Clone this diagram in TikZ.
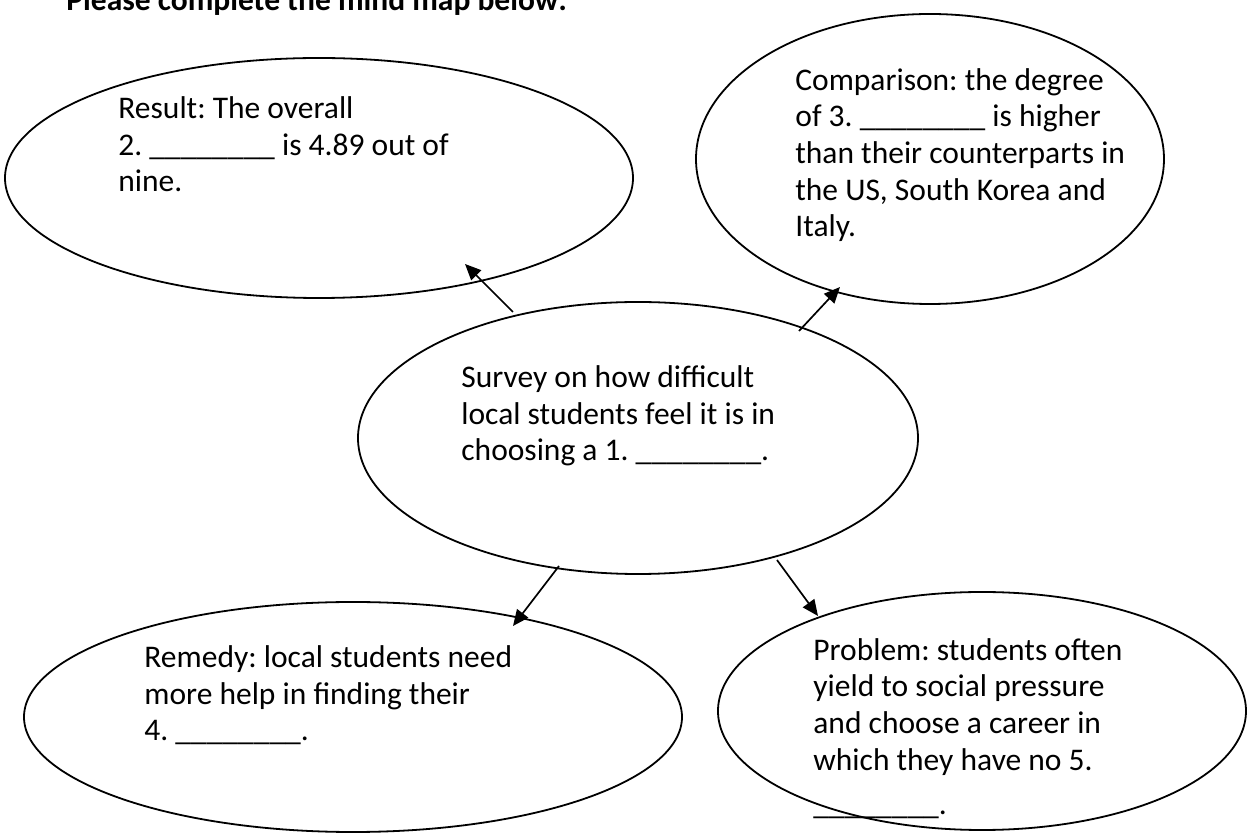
\documentclass[tikz,border=0pt]{standalone}
\usepackage{fontspec}
\setmainfont{Carlito}
\usetikzlibrary{shapes.geometric,arrows.meta}
\frenchspacing
\begin{document}
\begin{tikzpicture}[x=0.5pt,y=-0.5pt,
  bubble/.style={ellipse,draw,line width=0.9pt,inner sep=0pt,outer sep=0pt},
  txt/.style={anchor=base west,inner sep=0pt,align=left,font=\fontsize{15.75pt}{18.35pt}\selectfont},
  link/.style={line width=0.85pt,-{Triangle[length=8pt,width=7pt]}}]
\useasboundingbox (0,0) rectangle (1250,839);
\node[anchor=base west,inner sep=0pt,font=\fontsize{15.75pt}{18.35pt}\selectfont\bfseries] (title) at (66,11) {Please complete the mind map below:};
% ellipses
\node[bubble,minimum width=314pt,minimum height=120pt] (result) at (319,178) {};
\node[bubble,minimum width=234pt,minimum height=145pt] (comp) at (930,159) {};
\node[bubble,minimum width=280pt,minimum height=136pt] (survey) at (638,438) {};
\node[bubble,minimum width=329pt,minimum height=115pt] (remedy) at (353,717) {};
\node[bubble,minimum width=264pt,minimum height=119pt] (problem) at (982,711) {};
% texts (anchor = baseline of last line)
\node[txt] (tresult) at (118,192) {Result: The overall\\2. \_\_\_\_\_\_\_\_ is 4.89 out of\\nine.};
\node[txt] (tcomp) at (795,237) {Comparison: the degree\\of 3. \_\_\_\_\_\_\_\_ is higher\\than their counterparts in\\the US, South Korea and\\Italy.};
\node[txt] (tsurvey) at (461,461) {Survey on how difficult\\local students feel it is in\\choosing a 1. \_\_\_\_\_\_\_\_.};
\node[txt] (tremedy) at (144,741) {Remedy: local students need\\more help in finding their\\4. \_\_\_\_\_\_\_\_.};
\node[txt] (tproblem) at (813,815) {Problem: students often\\yield to social pressure\\and choose a career in\\which they have no 5.\\[4pt]\_\_\_\_\_\_\_\_.};
% arrow ends
\coordinate (a1s) at (513,312); \coordinate (a1e) at (465,264);
\coordinate (a2s) at (799,331); \coordinate (a2e) at (840,287);
\coordinate (a3s) at (559,566); \coordinate (a3e) at (513,626);
\coordinate (a4s) at (777,560); \coordinate (a4e) at (818,616);
\draw[link] (a1s) -- (a1e);
\draw[link] (a2s) -- (a2e);
\draw[link] (a3s) -- (a3e);
\draw[link] (a4s) -- (a4e);
\end{tikzpicture}
\end{document}
